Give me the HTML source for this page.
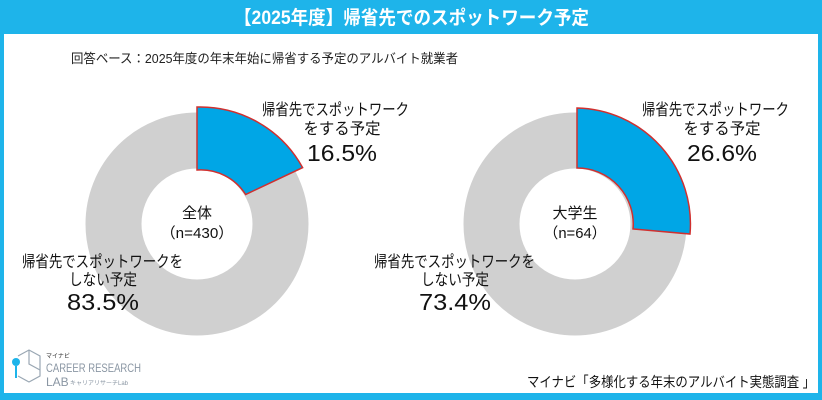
<!DOCTYPE html>
<html><head><meta charset="utf-8"><style>
html,body{margin:0;padding:0;background:#fff;}
svg{display:block;font-family:"Liberation Sans","Noto Sans CJK JP",sans-serif;}
</style></head><body>
<svg width="822" height="400" viewBox="0 0 822 400">
<rect x="0" y="0" width="822" height="400" fill="#1eb4ea"/>
<rect x="4" y="34" width="814" height="359" fill="#fff"/>
<text x="234" y="24" font-size="19" font-weight="bold" fill="#fff" textLength="355" lengthAdjust="spacingAndGlyphs">【2025年度】帰省先でのスポットワーク予定</text>
<text x="71" y="63" font-size="13" fill="#222" textLength="387" lengthAdjust="spacingAndGlyphs">回答ベース：2025年度の年末年始に帰省する予定のアルバイト就業者</text>

<!-- left donut -->
<circle cx="197" cy="224" r="83.5" fill="none" stroke="#d0d0d0" stroke-width="56"/>
<path d="M197 107 A117 117 0 0 1 302.6 167.6 L245.6 194.5 A53 53 0 0 0 197 170 Z" fill="#00a6e6" stroke="#d0302f" stroke-width="1.5"/>
<text x="197" y="218" font-size="15" text-anchor="middle" fill="#111" textLength="30" lengthAdjust="spacingAndGlyphs">全体</text>
<text x="197" y="238" font-size="15" text-anchor="middle" fill="#111" textLength="73" lengthAdjust="spacingAndGlyphs">（n=430）</text>
<text x="262" y="115" font-size="16" fill="#111" textLength="147" lengthAdjust="spacingAndGlyphs">帰省先でスポットワーク</text>
<text x="342" y="134" font-size="16" text-anchor="middle" fill="#111" textLength="77" lengthAdjust="spacingAndGlyphs">をする予定</text>
<text x="342" y="161" font-size="23" text-anchor="middle" fill="#111" textLength="70" lengthAdjust="spacingAndGlyphs">16.5%</text>
<text x="22" y="267" font-size="16" fill="#111" textLength="161" lengthAdjust="spacingAndGlyphs">帰省先でスポットワークを</text>
<text x="103" y="285" font-size="16" text-anchor="middle" fill="#111" textLength="68" lengthAdjust="spacingAndGlyphs">しない予定</text>
<text x="103" y="310" font-size="23" text-anchor="middle" fill="#111" textLength="72" lengthAdjust="spacingAndGlyphs">83.5%</text>

<!-- right donut -->
<circle cx="575" cy="224" r="83.5" fill="none" stroke="#d0d0d0" stroke-width="56"/>
<path d="M577 108 A116 116 0 0 1 690 234 L633 229 A56 56 0 0 0 577 168 Z" fill="#00a6e6" stroke="#d0302f" stroke-width="1.5"/>
<text x="575" y="218" font-size="15" text-anchor="middle" fill="#111" textLength="45" lengthAdjust="spacingAndGlyphs">大学生</text>
<text x="575" y="238" font-size="15" text-anchor="middle" fill="#111" textLength="63" lengthAdjust="spacingAndGlyphs">（n=64）</text>
<text x="642" y="115" font-size="16" fill="#111" textLength="147" lengthAdjust="spacingAndGlyphs">帰省先でスポットワーク</text>
<text x="722" y="134" font-size="16" text-anchor="middle" fill="#111" textLength="77" lengthAdjust="spacingAndGlyphs">をする予定</text>
<text x="722" y="161" font-size="23" text-anchor="middle" fill="#111" textLength="70" lengthAdjust="spacingAndGlyphs">26.6%</text>
<text x="374" y="267" font-size="16" fill="#111" textLength="161" lengthAdjust="spacingAndGlyphs">帰省先でスポットワークを</text>
<text x="455" y="285" font-size="16" text-anchor="middle" fill="#111" textLength="68" lengthAdjust="spacingAndGlyphs">しない予定</text>
<text x="455" y="310" font-size="23" text-anchor="middle" fill="#111" textLength="72" lengthAdjust="spacingAndGlyphs">73.4%</text>

<!-- logo -->
<g stroke="#9aa7b3" fill="none" stroke-width="1.2">
<path d="M18 356 L29 350 L40 356 L40 376 L29 382 L18 376"/>
<path d="M29 350 L29 364 L40 370"/>
</g>
<circle cx="16" cy="362" r="4" fill="#1eb4ea"/>
<line x1="16" y1="366" x2="16" y2="378" stroke="#1eb4ea" stroke-width="2"/>
<text x="46" y="358" font-size="6" fill="#333">マイナビ</text>
<text x="46" y="372" font-size="12" fill="#8a96a3" textLength="95" lengthAdjust="spacingAndGlyphs">CAREER RESEARCH</text>
<text x="46" y="386" font-size="12" fill="#8a96a3">LAB</text>
<text x="70" y="385" font-size="6" fill="#8a96a3">キャリアリサーチLab</text>
<text x="527" y="387" font-size="14" fill="#111" textLength="288" lengthAdjust="spacingAndGlyphs">マイナビ「多様化する年末のアルバイト実態調査 」</text>
</svg>
</body></html>
